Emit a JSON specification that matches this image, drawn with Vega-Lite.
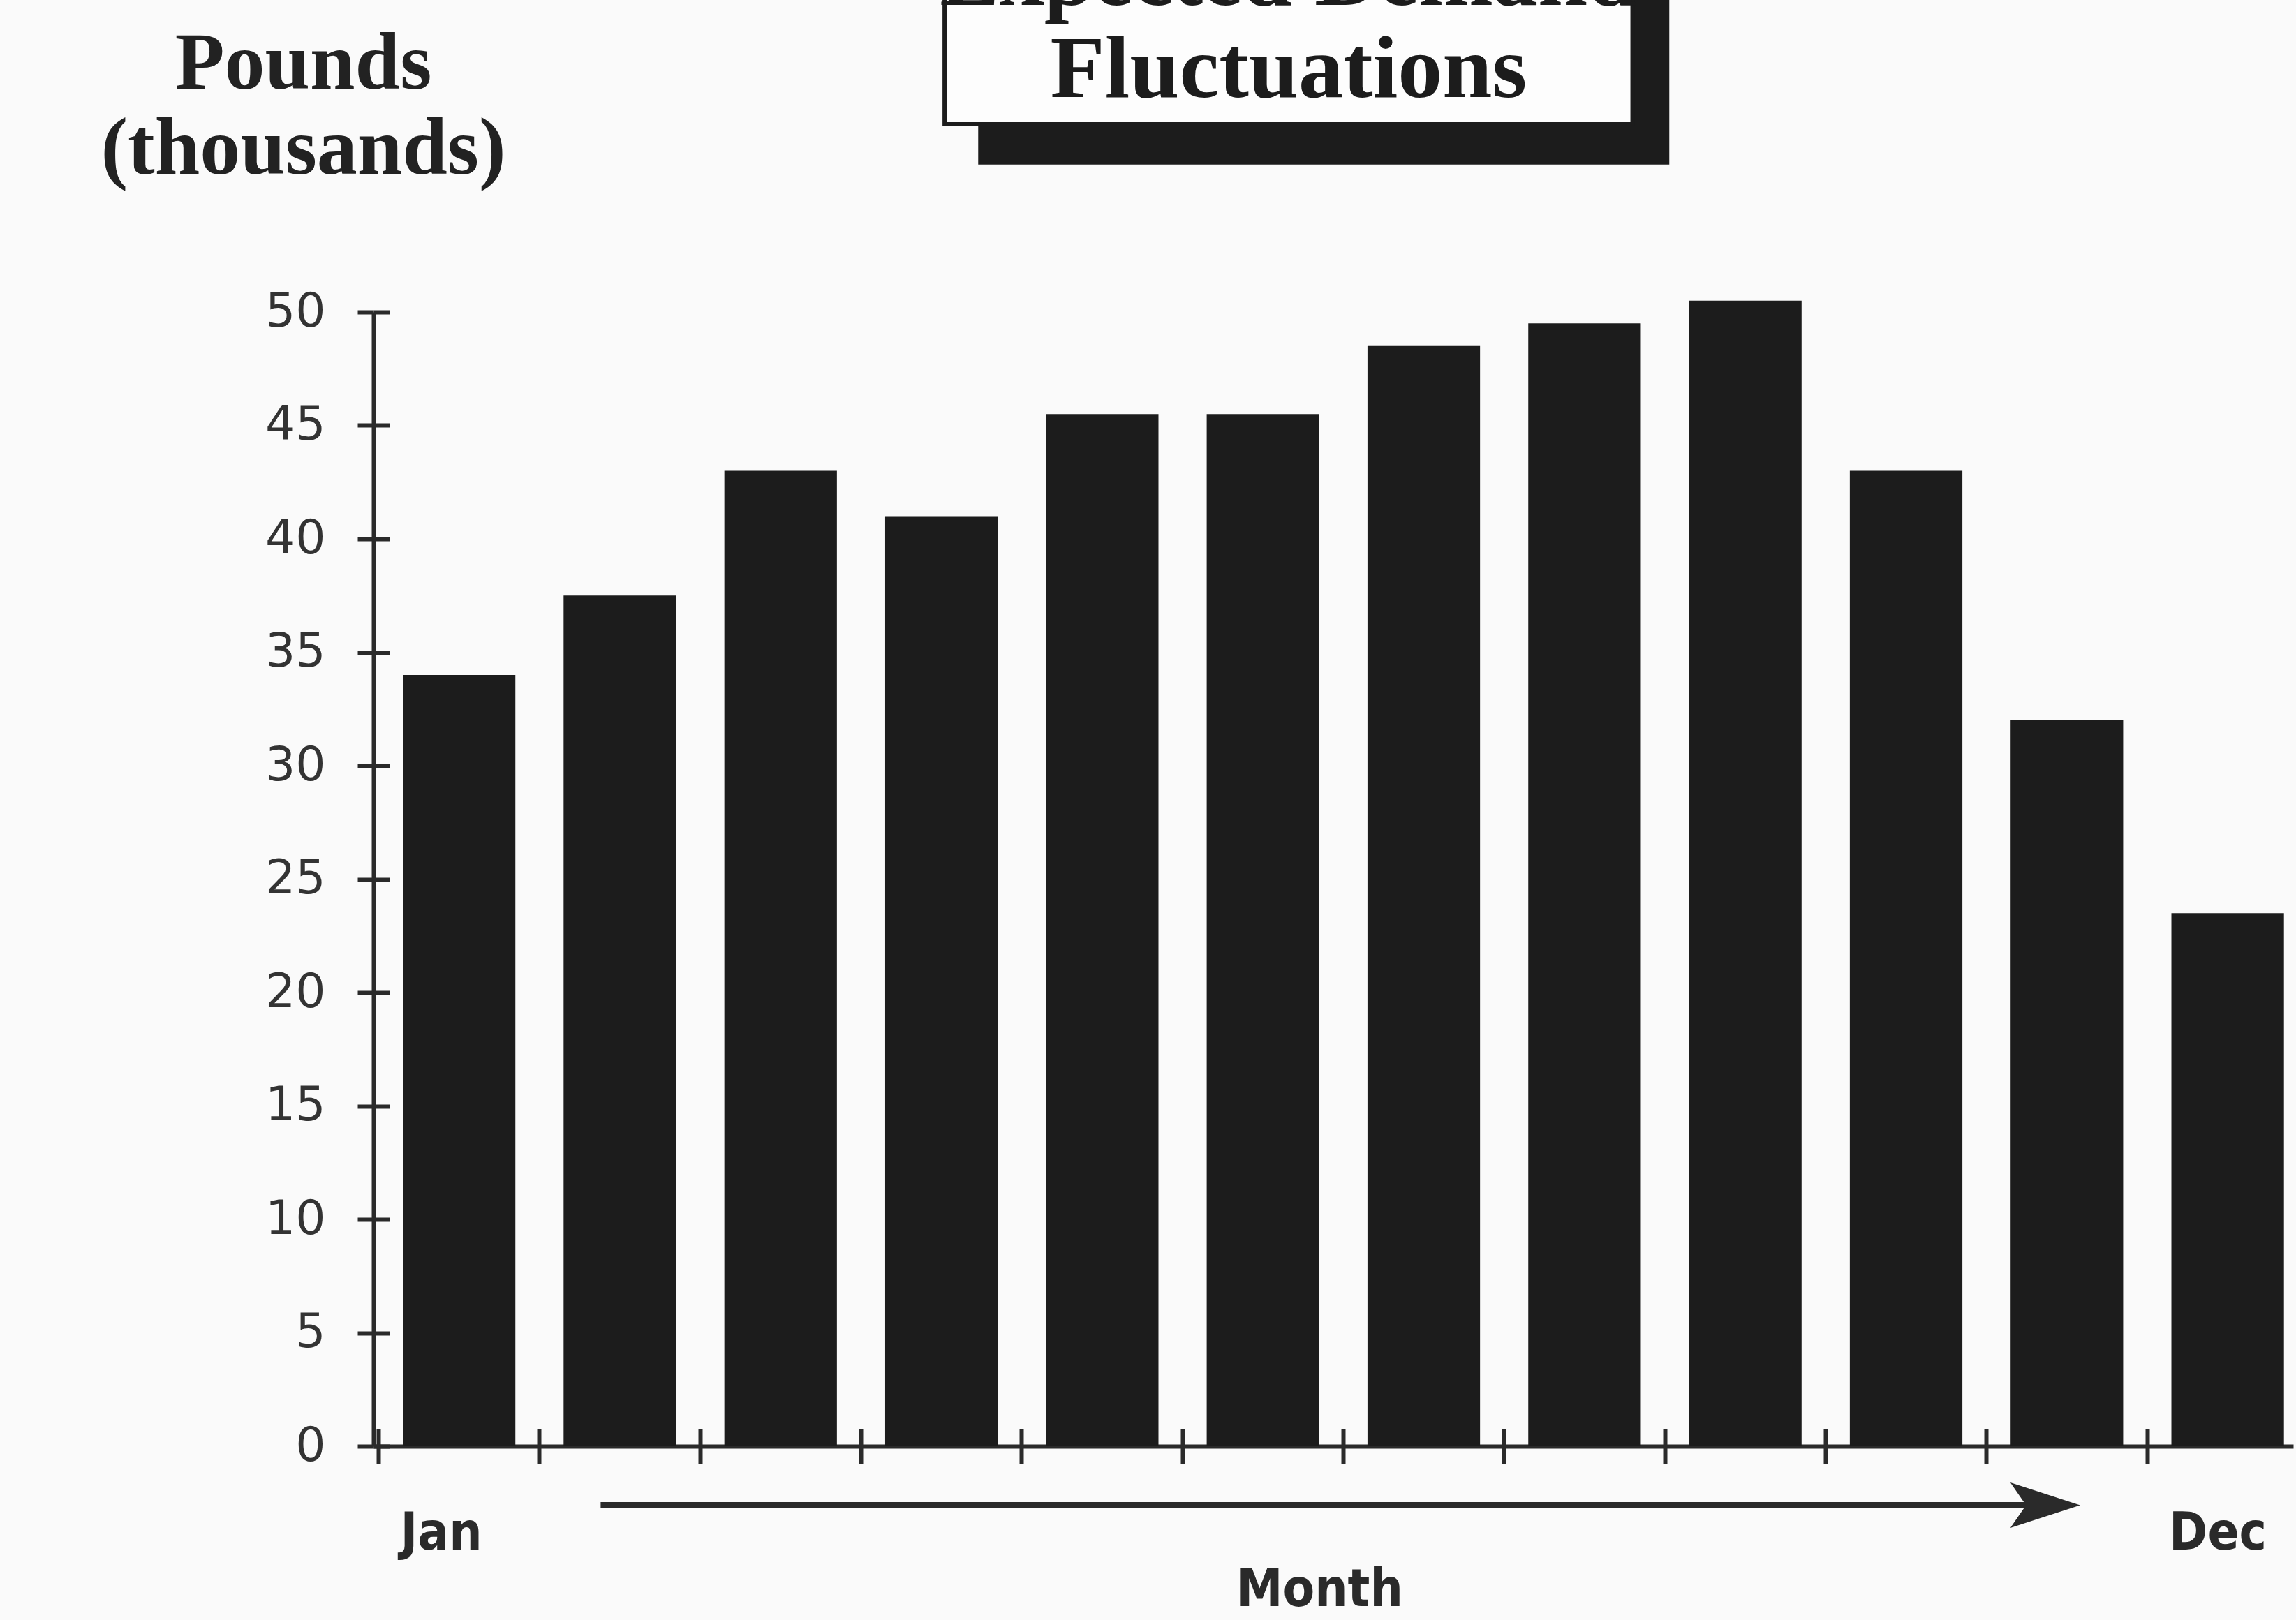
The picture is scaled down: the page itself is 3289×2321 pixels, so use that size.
{
  "$schema": "https://vega.github.io/schema/vega-lite/v6.json",
  "autosize": {"type": "none"},
  "padding": {"left": 535, "top": 447, "right": 4, "bottom": 249},
  "width": 2750,
  "height": 1625,
  "background": "#fafafa",
  "config": {
    "view": {"stroke": null},
    "axis": {"grid": false}
  },
  "data": {
    "values": [
      {"Month": "Jan", "Pounds": 34},
      {"Month": "Feb", "Pounds": 37.5},
      {"Month": "Mar", "Pounds": 43},
      {"Month": "Apr", "Pounds": 41},
      {"Month": "May", "Pounds": 45.5},
      {"Month": "Jun", "Pounds": 45.5},
      {"Month": "Jul", "Pounds": 48.5},
      {"Month": "Aug", "Pounds": 49.5},
      {"Month": "Sep", "Pounds": 50.5},
      {"Month": "Oct", "Pounds": 43},
      {"Month": "Nov", "Pounds": 32},
      {"Month": "Dec", "Pounds": 23.5}
    ]
  },
  "layer": [
    {
      "mark": {"type": "bar", "color": "#1c1c1c"},
      "encoding": {
        "x": {
          "field": "Month", "type": "nominal", "sort": null,
          "scale": {"paddingInner": 0.3, "paddingOuter": 0.12, "align": 0.76},
          "axis": {
            "orient": "bottom",
            "bandPosition": -0.214,
            "domainColor": "#2a2a2a", "domainWidth": 6,
            "tickColor": "#2a2a2a", "tickWidth": 6, "tickSize": 25,
            "labelAngle": 0,
            "labelExpr": "datum.value == 'Jan' || datum.value == 'Dec' ? datum.value : ''",
            "labelAlign": "left", "labelOffset": -84, "labelPadding": 64,
            "labelFont": "DejaVu Sans Condensed, DejaVu Sans", "labelFontSize": 74,
            "labelFontWeight": "bold",
            "labelColor": "#2a2a2a", "labelOverlap": false,
            "title": "Month",
            "titleFont": "DejaVu Sans Condensed, DejaVu Sans", "titleFontSize": 74,
            "titleFontWeight": "bold", "titleColor": "#2a2a2a",
            "titleX": 1355, "titleY": 228, "titleAlign": "center", "titleBaseline": "alphabetic"
          }
        },
        "y": {
          "field": "Pounds", "type": "quantitative",
          "scale": {"domain": [0, 50], "nice": false},
          "axis": {
            "orient": "left",
            "values": [0, 5, 10, 15, 20, 25, 30, 35, 40, 45, 50],
            "domainColor": "#2a2a2a", "domainWidth": 6,
            "tickColor": "#2a2a2a", "tickWidth": 6, "tickSize": 23,
            "labelFont": "DejaVu Sans", "labelFontSize": 68, "labelColor": "#333333",
            "labelPadding": 46, "labelFlush": false, "labelOverlap": false,
            "title": ["Pounds", "(thousands)"],
            "titleFont": "Liberation Serif", "titleFontSize": 116, "titleFontWeight": "bold",
            "titleColor": "#222222", "titleAngle": 0, "titleAlign": "center",
            "titleBaseline": "alphabetic", "titleX": -101, "titleY": -321, "titleLineHeight": 122
          }
        }
      }
    },
    {
      "mark": {"type": "bar", "opacity": 0},
      "encoding": {
        "x": {
          "field": "Month", "type": "nominal", "sort": null,
          "scale": {"paddingInner": 0.3, "paddingOuter": 0.12, "align": 0.76},
          "axis": {
            "orient": "bottom", "bandPosition": -0.214,
            "domain": false, "labels": false, "title": null,
            "tickColor": "#2a2a2a", "tickWidth": 6, "tickSize": -25
          }
        },
        "y": {
          "field": "Pounds", "type": "quantitative",
          "scale": {"domain": [0, 50], "nice": false},
          "axis": {
            "orient": "left",
            "values": [0, 5, 10, 15, 20, 25, 30, 35, 40, 45, 50],
            "domain": false, "labels": false, "title": null,
            "tickColor": "#2a2a2a", "tickWidth": 6, "tickSize": -23
          }
        }
      }
    },
    {
      "data": {"values": [{}]},
      "layer": [
        {
          "mark": {"type": "rect", "color": "#1c1c1c"},
          "encoding": {
            "x": {"datum": 4.28, "type": "quantitative", "scale": {"domain": [0.5, 12.5], "nice": false, "zero": false}, "axis": null},
            "x2": {"datum": 8.6},
            "y": {"datum": 56.5, "type": "quantitative", "scale": {"domain": [0, 50], "nice": false}, "axis": null},
            "y2": {"datum": 70}
          }
        },
        {
          "mark": {"type": "rect", "fill": "#fdfdfd", "stroke": "#1c1c1c", "strokeWidth": 6},
          "encoding": {
            "x": {"datum": 4.07, "type": "quantitative", "scale": {"domain": [0.5, 12.5], "nice": false, "zero": false}, "axis": null},
            "x2": {"datum": 8.37},
            "y": {"datum": 58.28, "type": "quantitative", "scale": {"domain": [0, 50], "nice": false}, "axis": null},
            "y2": {"datum": 70}
          }
        },
        {
          "mark": {
            "type": "text", "font": "Liberation Serif", "fontSize": 128, "fontWeight": "bold",
            "lineHeight": 132, "align": "center", "baseline": "alphabetic", "color": "#1c1c1c"
          },
          "encoding": {
            "x": {"datum": 6.22, "type": "quantitative", "scale": {"domain": [0.5, 12.5], "nice": false, "zero": false}, "axis": null},
            "y": {"datum": 63.55, "type": "quantitative", "scale": {"domain": [0, 50], "nice": false}, "axis": null},
            "text": {"value": ["Expected Demand", "Fluctuations"]}
          }
        },
        {
          "mark": {"type": "rule", "strokeWidth": 9, "color": "#2a2a2a"},
          "encoding": {
            "x": {"datum": 1.92, "type": "quantitative", "scale": {"domain": [0.5, 12.5], "nice": false, "zero": false}, "axis": null},
            "x2": {"datum": 10.95},
            "y": {"datum": -2.6, "type": "quantitative", "scale": {"domain": [0, 50], "nice": false}, "axis": null}
          }
        },
        {
          "mark": {
            "type": "point", "shape": "M -1,-0.65 L 1,0 L -1,0.65 L -0.55,0 Z",
            "size": 10000, "filled": true, "color": "#2a2a2a", "opacity": 1
          },
          "encoding": {
            "x": {"datum": 10.95, "type": "quantitative", "scale": {"domain": [0.5, 12.5], "nice": false, "zero": false}, "axis": null},
            "y": {"datum": -2.6, "type": "quantitative", "scale": {"domain": [0, 50], "nice": false}, "axis": null}
          }
        }
      ]
    }
  ],
  "resolve": {
    "scale": {"x": "independent", "y": "independent"},
    "axis": {"x": "independent", "y": "independent"}
  }
}
